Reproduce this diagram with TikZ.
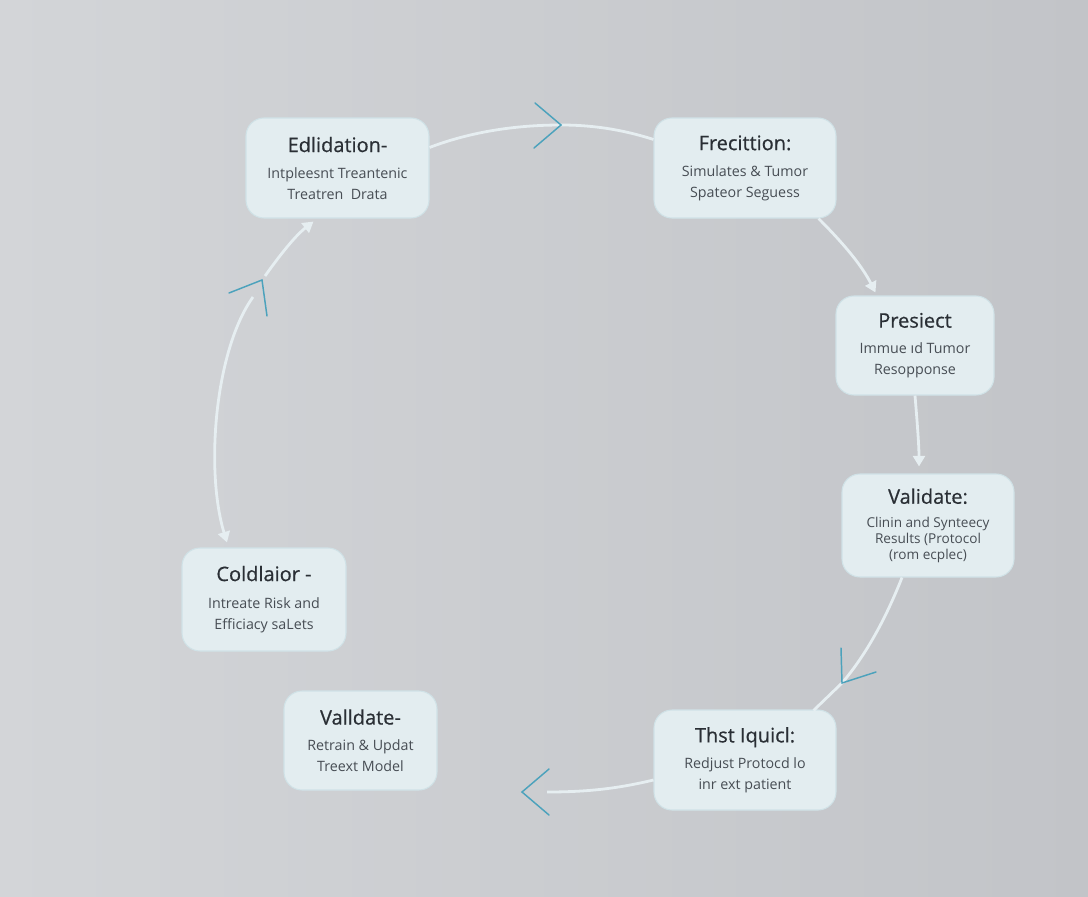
\documentclass[tikz,border=0pt]{standalone}
\usepackage{fontspec}
\setmainfont{Open Sans}
\newfontfamily\cardtitlefont[FakeBold=0.6]{Open Sans}
\usetikzlibrary{arrows.meta,calc}
\definecolor{bgA}{HTML}{D3D5D8}
\definecolor{bgB}{HTML}{C2C4C8}
\definecolor{boxfill}{HTML}{E3EDF0}
\definecolor{boxline}{HTML}{D0E2E7}
\definecolor{titlecol}{HTML}{2A2F35}
\definecolor{subcol}{HTML}{474D54}
\definecolor{linkcol}{HTML}{E6EEF1}
\definecolor{chev}{HTML}{4CA2BC}
\newcommand\cardtitle[1]{{\cardtitlefont\fontsize{15}{18}\selectfont\color{titlecol}#1}}
\begin{document}
\begin{tikzpicture}[x=0.75pt,y=-0.75pt,
  card/.style={draw=boxline, fill=boxfill, rounded corners=13.5pt, line width=0.8pt,
    align=center, text=subcol, inner sep=0pt,
    font=\fontsize{10.7}{15.75}\selectfont},
  link/.style={draw=linkcol, line width=2.1pt},
  linkarrow/.style={link, -{Triangle[width=9pt,length=8pt]}},
  chevron/.style={draw=chev, line width=1.1pt, line cap=round, line join=miter}]
\shade[left color=bgA, right color=bgB] (0,0) rectangle (1088,896);
\useasboundingbox (0,0) rectangle (1088,896);

\node[card, minimum width=137.25pt, minimum height=75pt] (edl) at (337.5,168)
  {\cardtitle{Edlidation-}\\[3.75pt]Intpleesnt Treantenic\\Treatren\ \ Drata};
\node[card, minimum width=136.5pt, minimum height=75pt] (fre) at (745,168)
  {\cardtitle{Frecittion:}\\[3.75pt]Simulates \& Tumor\\Spateor Seguess};
\node[card, minimum width=118.5pt, minimum height=74.25pt] (pre) at (915,345.5)
  {\cardtitle{Presiect}\\[3.75pt]Immue ıd Tumor\\Resopponse};
\node[card, minimum width=129pt, minimum height=77.25pt,
  font=\fontsize{10.2}{11.8}\selectfont] (val) at (928,525.5)
  {\cardtitle{Validate:}\\[6.2pt]Clinin and Synteecy\\Results (Protocol\\(rom ecplec)};
\node[card, minimum width=136.5pt, minimum height=75pt] (thst) at (745,760)
  {\cardtitle{Thst Iquicl:}\\[3.75pt]Redjust Protocd lo\\inr ext patient};
\node[card, minimum width=114.75pt, minimum height=74.25pt] (val2) at (360.5,740.5)
  {\cardtitle{Valldate-}\\[3.75pt]Retrain \& Updat\\Treext Model};
\node[card, minimum width=123pt, minimum height=77.25pt] (col) at (264,599.5)
  {\cardtitle{Coldlaior -}\\[5pt]Intreate Risk and\\Efficiacy saLets};

% chevron tips
\coordinate (c1) at (561,125);
\coordinate (c4) at (842,683);
\coordinate (c5) at (522,792);
\coordinate (c7) at (262,280);
\coordinate (c6) at (253,297);
\coordinate (e5) at (547,792);

% links
\draw[link] ($(edl.north east)+(0,30)$) .. controls (470,132) and (515,125) .. (c1)
  .. controls (600,125) and (630,132) .. ($(fre.north west)+(0,22)$);
\draw[linkarrow] ($(fre.south east)+(-18,0)$) .. controls (845,245) and (862,266) .. ($(pre.north west)+(40,-3)$);
\draw[linkarrow] (pre.south) .. controls (917,420) and (919,445) .. ($(val.north)+(-9,-7)$);
\draw[link] ($(val.south)+(-26,0)$) .. controls (886,618) and (866,655) .. (c4)
  -- ($(thst.north east)+(-23,1)$);
\draw[link] ($(thst.west)+(0,20)$) .. controls (620,788) and (590,792) .. (e5);
\draw[linkarrow] (c6) .. controls (215,350) and (205,470) .. ($(col.north)+(-37,-5)$);
\draw[linkarrow] ($(c7)+(3,-4)$) .. controls (280,255) and (295,236) .. ($(edl.south)+(-24,3)$);

% blue chevrons
\draw[chevron] ($(c1)+(-26,-22)$) -- (c1) -- ($(c1)+(-27,23)$);
\draw[chevron] ($(c4)+(-1,-35)$) -- (c4) -- ($(c4)+(34,-11)$);
\draw[chevron] ($(c5)+(27,-23)$) -- (c5) -- ($(c5)+(27,23)$);
\draw[chevron] ($(c7)+(-33,13)$) -- (c7) -- ($(c7)+(5,36)$);
\end{tikzpicture}
\end{document}
